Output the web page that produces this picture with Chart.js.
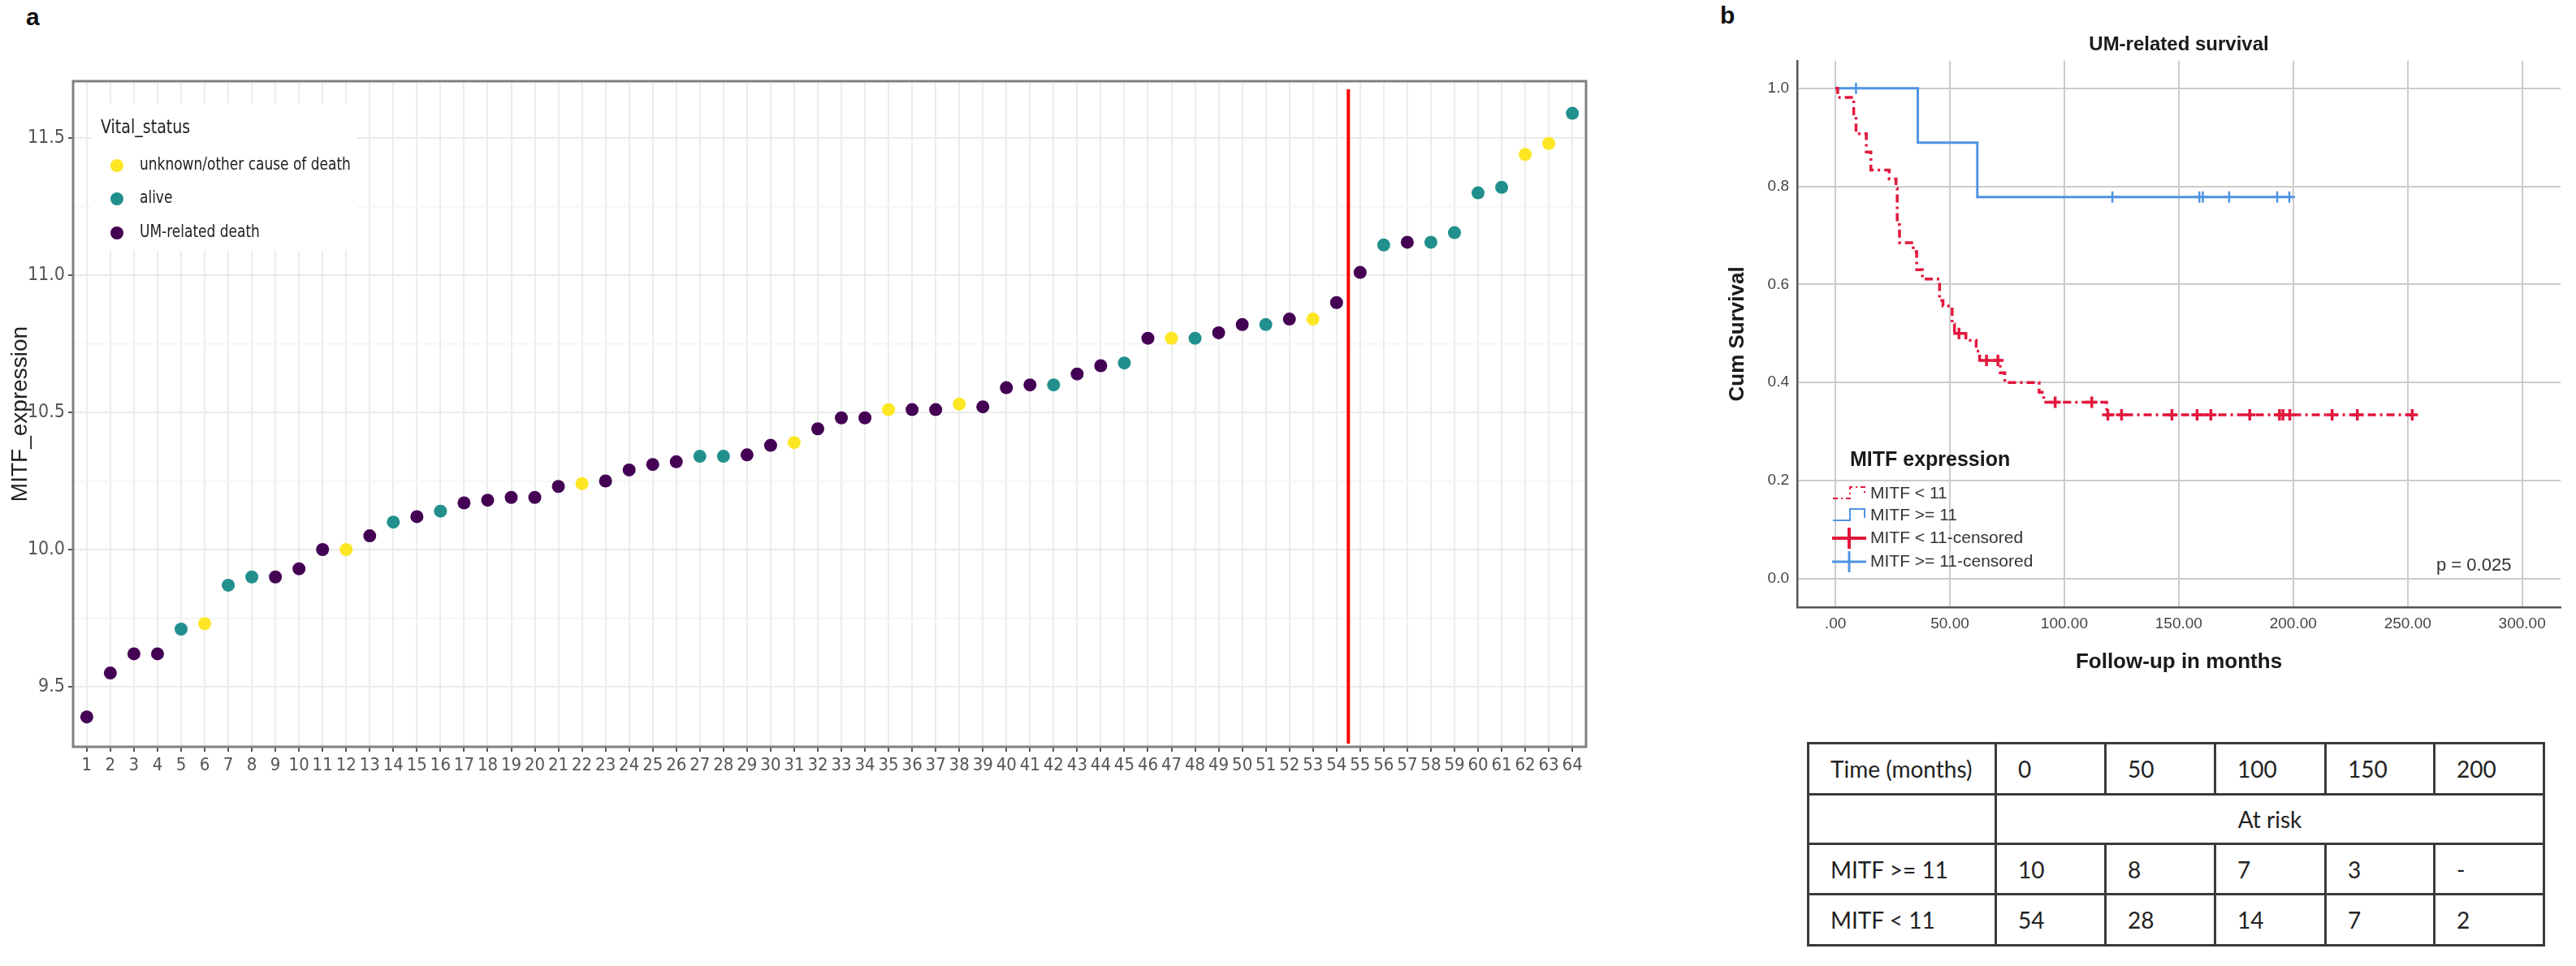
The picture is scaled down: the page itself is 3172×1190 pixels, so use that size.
<!DOCTYPE html>
<html lang="en">
<head>
<meta charset="UTF-8">
<title>MITF expression and UM-related survival</title>
<script src="https://cdn.jsdelivr.net/npm/chart.js"></script>
<style>
  body { margin: 0; width: 3172px; height: 1190px; background: #fff; position: relative; overflow: hidden;
         font-family: 'Liberation Sans', Arial, sans-serif; }
  .tag { position: absolute; font-weight: bold; font-size: 30px; color: #111; }
  #scatter { position: absolute; left: 0; top: 0; }
  #km { position: absolute; left: 2100px; top: 0; }
  #risk { position: absolute; left: 2225px; top: 914px; width: 906px; table-layout: fixed; border-collapse: collapse;
          font-family: Lato, 'Open Sans', sans-serif; font-size: 28px; color: #222; }
  #risk td { border: 3px solid #3a3a3a; padding: 0 0 0 26px; text-align: left; overflow: hidden; white-space: nowrap; }
  #risk td.span { text-align: center; padding: 0; }
</style>
</head>
<body>
<div class="tag" style="left:32px; top:4px;">a</div>
<div class="tag" style="left:2118px; top:2px;">b</div>
<canvas id="scatter" width="2000" height="1000"></canvas>
<canvas id="km" width="1072" height="870"></canvas>
<table id="risk"></table>

<script>
// ---- panel a: MITF expression per patient (sorted) ----
var ranks = [1,2,3,4,5,6,7,8,9,10,11,12,13,14,15,16,17,18,19,20,21,22,23,24,25,26,27,28,29,30,31,32,
             33,34,35,36,37,38,39,40,41,42,43,44,45,46,47,48,49,50,51,52,53,54,55,56,57,58,59,60,61,62,63,64];
var mitfExpr = [9.39, 9.55, 9.62, 9.62, 9.71, 9.73, 9.87, 9.90, 9.90, 9.93, 10.00, 10.00, 10.05, 10.10, 10.12, 10.14,
                10.17, 10.18, 10.19, 10.19, 10.23, 10.24, 10.25, 10.29, 10.31, 10.32, 10.34, 10.34, 10.345, 10.38, 10.39, 10.44,
                10.48, 10.48, 10.51, 10.51, 10.51, 10.53, 10.52, 10.59, 10.60, 10.60, 10.64, 10.67, 10.68, 10.77,
                10.77, 10.77, 10.79, 10.82, 10.82, 10.84, 10.84, 10.90, 11.01, 11.11, 11.12, 11.12, 11.155, 11.30,
                11.32, 11.44, 11.48, 11.59];
// U = unknown/other cause of death, A = alive, D = UM-related death
var vitalStatus = ['D','D','D','D','A','U','A','A','D','D','D','U','D','A','D','A','D','D','D','D','D','U','D','D',
                   'D','D','A','A','D','D','U','D','D','D','U','D','D','U','D','D','D','A','D','D','A','D','U','A',
                   'D','D','A','D','U','D','D','A','D','A','A','A','A','U','U','A'];
var statusCodes = ['U', 'A', 'D'];
var statusNames = ['unknown/other cause of death', 'alive', 'UM-related death'];
var statusColors = ['#FDE725', '#21908C', '#440154'];
var cutoffRank = 54.5;

// ---- panel b: Kaplan-Meier, UM-related survival ----
var lowTimes = [0, 1, 8, 9, 13.5, 15.5, 23.5, 26.5, 27, 28, 34, 35.5, 38, 45.5, 47, 51, 52, 57, 61.5, 63, 72, 74, 89, 91, 118.5, 252];
var lowSurv  = [1, 0.981, 0.944, 0.907, 0.870, 0.833, 0.815, 0.796, 0.722, 0.685, 0.667, 0.630, 0.611, 0.567, 0.556,
                0.519, 0.500, 0.486, 0.464, 0.445, 0.420, 0.400, 0.380, 0.360, 0.334, 0.334];
var lowCensTimes = [54, 66, 71, 96, 112, 119, 125, 147, 158, 164, 181, 194, 195.5, 198.5, 217, 228, 252];
var lowCensSurv  = [0.500, 0.445, 0.445, 0.360, 0.360, 0.334, 0.334, 0.334, 0.334, 0.334, 0.334, 0.334, 0.334, 0.334,
                    0.334, 0.334, 0.334];
var highTimes = [0, 36, 62, 200];
var highSurv  = [1, 0.889, 0.778, 0.778];
var highCensTimes = [9, 121, 159, 160.5, 172, 193, 198.3];
var highCensSurv  = [1, 0.778, 0.778, 0.778, 0.778, 0.778, 0.778];
var kmTicksX = [0, 50, 100, 150, 200, 250, 300];

// ---- numbers at risk ----
var riskTimes = ['0', '50', '100', '150', '200'];
var riskHigh = ['10', '8', '7', '3', '-'];
var riskLow = ['54', '28', '14', '7', '2'];

var narrow = "'Liberation Sans Narrow', 'Arial Narrow', 'DejaVu Sans Condensed', sans-serif";
var sans = "'Liberation Sans', Arial, sans-serif";

function pairs(xs, ys) {
  return xs.map(function (x, i) { return { x: x, y: ys[i] }; });
}
function isMajor(v) { return Math.abs(v * 2 - Math.round(v * 2)) < 1e-6; }

// scatter datasets, one per vital status
var scatterSets = statusCodes.map(function (code, k) {
  var pts = [];
  ranks.forEach(function (r, i) {
    if (vitalStatus[i] === code) pts.push({ x: r, y: mitfExpr[i] });
  });
  return { label: statusNames[k], data: pts, backgroundColor: statusColors[k],
           borderWidth: 0, pointRadius: 8, pointHoverRadius: 8 };
});

// text squeezed horizontally, like the reference figure
function narrowText(ctx, text, x, y, sx) {
  ctx.save();
  ctx.translate(x, y);
  ctx.scale(sx, 1);
  ctx.fillText(text, 0, 0);
  ctx.restore();
}

var panelA = {
  id: 'panelA',
  afterDraw: function (chart) {
    var ctx = chart.ctx, a = chart.chartArea;
    var px = chart.scales.x.getPixelForValue(cutoffRank);
    ctx.save();
    ctx.strokeStyle = '#ff0000';
    ctx.lineWidth = 4;
    ctx.beginPath();
    ctx.moveTo(px, a.top + 10);
    ctx.lineTo(px, a.bottom - 4);
    ctx.stroke();
    ctx.strokeStyle = '#808080';
    ctx.lineWidth = 3;
    ctx.strokeRect(a.left, a.top, a.right - a.left, a.bottom - a.top);
    // legend inside the panel
    ctx.fillStyle = '#fff';
    ctx.fillRect(112, 128, 328, 181);
    ctx.fillStyle = '#222';
    ctx.textBaseline = 'middle';
    ctx.font = '23px ' + narrow;
    narrowText(ctx, 'Vital_status', 124, 158, 0.92);
    ctx.font = '21px ' + narrow;
    var rows = [204, 245, 287];
    statusNames.forEach(function (name, k) {
      ctx.fillStyle = statusColors[k];
      ctx.beginPath();
      ctx.arc(144, rows[k], 8, 0, Math.PI * 2);
      ctx.fill();
      ctx.fillStyle = '#222';
      narrowText(ctx, name, 172, rows[k], 0.9);
    });
    ctx.restore();
  }
};

new Chart(document.getElementById('scatter'), {
  type: 'scatter',
  data: { datasets: scatterSets },
  options: {
    responsive: false,
    animation: false,
    layout: { padding: { left: 0, top: 100, right: 47, bottom: 0 } },
    plugins: { legend: { display: false }, tooltip: { enabled: false } },
    scales: {
      x: {
        min: 0.42, max: 64.58,
        afterFit: function (s) { s.height = 80; },
        border: { display: false },
        grid: { color: '#ececec', lineWidth: 2, tickColor: '#555', tickLength: 6, tickWidth: 2 },
        ticks: { stepSize: 1, includeBounds: false, autoSkip: false, maxRotation: 0, padding: 4,
                 color: '#555', font: { family: narrow, size: 22 },
                 callback: function (v) { return ranks.indexOf(v) >= 0 ? String(v) : ''; } }
      },
      y: {
        min: 9.281, max: 11.707,
        afterFit: function (s) { s.width = 90; },
        border: { display: false },
        title: { display: true, text: 'MITF_expression', color: '#222', padding: { top: 8, bottom: 0 },
                 font: { family: sans, size: 28 } },
        grid: {
          color: function (c) { return c.tick && isMajor(c.tick.value) ? '#ebebeb' : '#f3f3f3'; },
          lineWidth: function (c) { return c.tick && isMajor(c.tick.value) ? 2 : 1.5; },
          tickColor: function (c) { return c.tick && isMajor(c.tick.value) ? '#555' : 'rgba(0,0,0,0)'; },
          tickLength: 6, tickWidth: 2
        },
        ticks: { stepSize: 0.25, includeBounds: false, padding: 4, color: '#555',
                 font: { family: narrow, size: 23 },
                 callback: function (v) { return isMajor(v) ? v.toFixed(1) : ''; } }
      }
    }
  },
  plugins: [panelA]
});

// ---- KM chart ----
var red = '#e2183d', blue = '#4f94e2';

var panelB = {
  id: 'panelB',
  afterDraw: function (chart) {
    var ctx = chart.ctx;
    ctx.save();
    ctx.textBaseline = 'middle';
    ctx.fillStyle = '#1a1a1a';
    ctx.font = 'bold 25px ' + sans;
    ctx.fillText('MITF expression', 178, 567);
    ctx.font = '21px ' + sans;
    ctx.fillStyle = '#333';
    var labels = ['MITF < 11', 'MITF >= 11', 'MITF < 11-censored', 'MITF >= 11-censored'];
    var ys = [608, 635, 663, 692];
    labels.forEach(function (t, i) { ctx.fillText(t, 203, ys[i]); });
    // step samples
    ctx.lineWidth = 2;
    ctx.strokeStyle = red;
    ctx.setLineDash([6, 4, 2, 4]);
    ctx.beginPath();
    ctx.moveTo(157, 614); ctx.lineTo(178, 614); ctx.lineTo(178, 600); ctx.lineTo(196, 600); ctx.lineTo(196, 611);
    ctx.stroke();
    ctx.setLineDash([]);
    ctx.strokeStyle = blue;
    ctx.beginPath();
    ctx.moveTo(157, 641); ctx.lineTo(178, 641); ctx.lineTo(178, 627); ctx.lineTo(196, 627); ctx.lineTo(196, 638);
    ctx.stroke();
    // censored samples
    ctx.lineWidth = 4;
    ctx.strokeStyle = red;
    ctx.beginPath();
    ctx.moveTo(156, 663); ctx.lineTo(198, 663); ctx.moveTo(177, 650); ctx.lineTo(177, 676);
    ctx.stroke();
    ctx.lineWidth = 3;
    ctx.strokeStyle = blue;
    ctx.beginPath();
    ctx.moveTo(156, 692); ctx.lineTo(198, 692); ctx.moveTo(177, 679); ctx.lineTo(177, 705);
    ctx.stroke();
    // log-rank p
    ctx.fillStyle = '#333';
    ctx.font = '22px ' + sans;
    ctx.fillText('p = 0.025', 900, 697);
    ctx.restore();
  }
};

new Chart(document.getElementById('km'), {
  type: 'scatter',
  data: {
    datasets: [
      { label: 'MITF < 11', data: pairs(lowTimes, lowSurv), showLine: true, stepped: true,
        borderColor: red, borderWidth: 3.5, borderDash: [10, 5, 3, 5], pointRadius: 0, fill: false },
      { label: 'MITF >= 11', data: pairs(highTimes, highSurv), showLine: true, stepped: true,
        borderColor: blue, borderWidth: 3, pointRadius: 0, fill: false },
      { label: 'MITF < 11-censored', data: pairs(lowCensTimes, lowCensSurv), pointStyle: 'cross',
        pointRadius: 7, borderColor: red, borderWidth: 3.5 },
      { label: 'MITF >= 11-censored', data: pairs(highCensTimes, highCensSurv), pointStyle: 'cross',
        pointRadius: 7, borderColor: blue, borderWidth: 2.5 }
    ]
  },
  options: {
    responsive: false,
    animation: false,
    layout: { padding: { left: 0, top: 0, right: 19, bottom: 0 } },
    plugins: {
      legend: { display: false },
      tooltip: { enabled: false },
      title: { display: true, text: 'UM-related survival', fullSize: false, color: '#1a1a1a',
               font: { family: sans, size: 24, weight: 'bold' }, padding: { top: 41, bottom: 5 } }
    },
    scales: {
      x: {
        min: -16.7, max: 316.8,
        afterFit: function (s) { s.height = 122; },
        border: { display: true, color: '#555', width: 2.5 },
        grid: { color: '#cccccc', lineWidth: 2, drawTicks: false },
        title: { display: true, text: 'Follow-up in months', color: '#1a1a1a', padding: { top: 0, bottom: 39 },
                 font: { family: sans, size: 26, weight: 'bold' } },
        ticks: { stepSize: 50, includeBounds: false, maxRotation: 0, padding: 9, color: '#444',
                 font: { family: sans, size: 19 },
                 callback: function (v) { return kmTicksX.indexOf(v) < 0 ? '' : (v === 0 ? '.00' : v.toFixed(2)); } }
      },
      y: {
        min: -0.058, max: 1.056,
        afterFit: function (s) { s.width = 113; },
        border: { display: true, color: '#555', width: 2.5 },
        grid: { color: '#cccccc', lineWidth: 2, drawTicks: false },
        title: { display: true, text: 'Cum Survival', color: '#1a1a1a', padding: { top: 24, bottom: 0 },
                 font: { family: sans, size: 26, weight: 'bold' } },
        ticks: { stepSize: 0.2, includeBounds: false, padding: 10, color: '#444',
                 font: { family: sans, size: 19 },
                 callback: function (v) { return v.toFixed(1); } }
      }
    }
  },
  plugins: [panelB]
});

// ---- number at risk table ----
var colW = [231, 135, 135, 136, 134, 135];
var rowH = [63, 61, 62, 63];
var table = document.getElementById('risk');
var colgroup = document.createElement('colgroup');
colW.forEach(function (w) {
  var col = document.createElement('col');
  col.style.width = w + 'px';
  colgroup.appendChild(col);
});
table.appendChild(colgroup);
function addRow(cells, h) {
  var tr = document.createElement('tr');
  tr.style.height = h + 'px';
  cells.forEach(function (c) {
    var td = document.createElement('td');
    td.textContent = c;
    tr.appendChild(td);
  });
  table.appendChild(tr);
  return tr;
}
addRow(['Time (months)'].concat(riskTimes), rowH[0]);
var tr2 = document.createElement('tr');
tr2.style.height = rowH[1] + 'px';
var c0 = document.createElement('td');
var c1 = document.createElement('td');
c1.colSpan = 5;
c1.className = 'span';
c1.textContent = 'At risk';
tr2.appendChild(c0); tr2.appendChild(c1);
table.appendChild(tr2);
addRow(['MITF >= 11'].concat(riskHigh), rowH[2]);
addRow(['MITF < 11'].concat(riskLow), rowH[3]);
</script>
</body>
</html>
